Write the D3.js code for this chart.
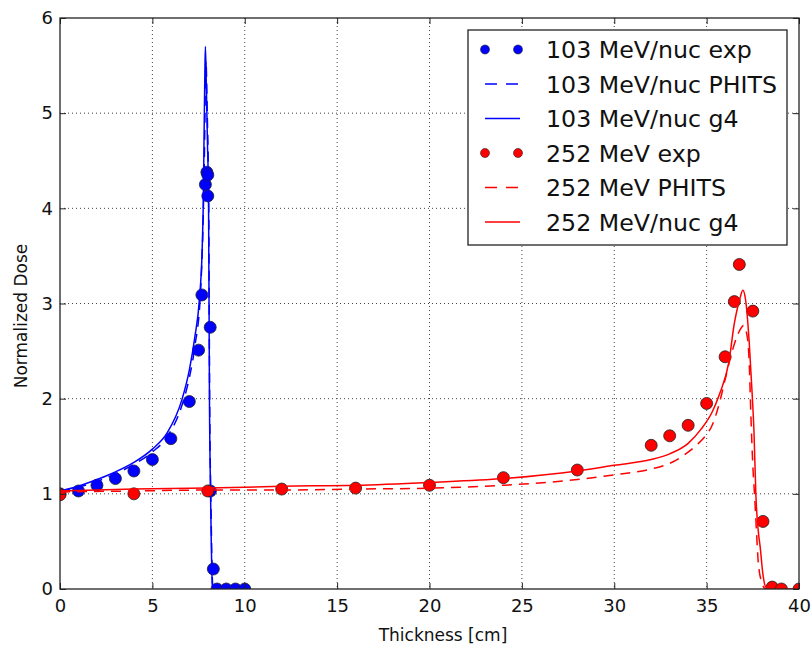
<!DOCTYPE html>
<html>
<head>
<meta charset="utf-8">
<script src="https://cdn.jsdelivr.net/npm/d3@7"></script>
<style>
  body { margin: 0; background: #fff; }
  svg { display: block; font-family: "DejaVu Sans", sans-serif; }
</style>
</head>
<body>
<svg id="chart"></svg>
<script>
const blueExpX = [0, 1, 2, 3, 4, 5, 6, 7, 7.5, 7.68, 7.87, 7.95, 8.0, 8.0, 8.13, 8.14, 8.3, 8.5, 9.0, 9.5, 10.0];
const blueExpY = [1.0, 1.03, 1.09, 1.16, 1.24, 1.36, 1.58, 1.97, 2.51, 3.09, 4.25, 4.38, 4.35, 4.13, 2.75, 1.03, 0.21, 0, 0, 0, 0];

const bluePhitsX = [0, 1, 2, 3, 4, 5, 5.8, 6.6, 7.0, 7.3, 7.6, 7.75, 7.82, 7.9, 7.97, 8.05, 8.1, 8.17, 8.27, 8.4, 10];
const bluePhitsY = [1.02, 1.07, 1.13, 1.21, 1.31, 1.44, 1.6, 1.93, 2.22, 2.55, 3.1, 3.9, 4.6, 5.55, 5.0, 4.0, 2.0, 0.9, 0.03, 0, 0];

const blueG4X = [0, 1, 2, 3, 4, 5, 5.8, 6.6, 7.0, 7.3, 7.54, 7.7, 7.76, 7.8, 7.84, 7.87, 7.92, 7.98, 8.04, 8.09, 8.15, 8.25, 8.4, 10];
const blueG4Y = [1.03, 1.08, 1.15, 1.23, 1.33, 1.47, 1.64, 1.99, 2.3, 2.65, 3.03, 3.6, 4.1, 4.8, 5.4, 5.7, 5.3, 4.7, 4.1, 2.0, 1.0, 0.03, 0, 0];

const redExpX = [0, 4, 8, 12, 16, 20, 24, 28, 32, 33, 34, 35, 36, 36.5, 36.77, 37.5, 38.05, 38.55, 39.05, 40];
const redExpY = [0.99, 1.0, 1.03, 1.05, 1.06, 1.09, 1.17, 1.25, 1.51, 1.61, 1.72, 1.95, 2.44, 3.02, 3.41, 2.92, 0.71, 0.02, 0, 0];

const redPhitsX = [0, 4, 8, 12, 16, 20, 24, 28, 30, 32, 33, 33.8, 34.5, 34.9, 35.3, 35.7, 36.0, 36.4, 36.8, 37.0, 37.2, 37.3, 37.4, 37.5, 37.6, 37.7, 37.8, 38.0, 38.2, 40];
const redPhitsY = [1.02, 1.03, 1.04, 1.04, 1.05, 1.06, 1.09, 1.15, 1.2, 1.26, 1.32, 1.41, 1.52, 1.6, 1.72, 1.96, 2.2, 2.51, 2.72, 2.77, 2.65, 2.4, 1.8, 1.3, 0.97, 0.6, 0.27, 0.06, 0, 0];

const redG4X = [0, 4, 8, 12, 16, 20, 24, 28, 30, 32, 33, 34, 34.7, 35.3, 35.7, 36.2, 36.5, 36.8, 36.96, 37.1, 37.3, 37.45, 37.56, 37.67, 37.8, 37.9, 38.05, 38.2, 38.5, 40];
const redG4Y = [1.03, 1.05, 1.06, 1.08, 1.09, 1.12, 1.16, 1.24, 1.30, 1.36, 1.42, 1.53, 1.68, 1.86, 2.05, 2.38, 2.79, 3.05, 3.14, 3.05, 2.61, 2.1, 1.67, 0.97, 0.6, 0.44, 0.15, 0.02, 0, 0];

const xTicks = [0, 5, 10, 15, 20, 25, 30, 35, 40];
const yTicks = [0, 1, 2, 3, 4, 5, 6];

const legendLabels = ["103 MeV/nuc exp", "103 MeV/nuc PHITS", "103 MeV/nuc g4",
                      "252 MeV exp", "252 MeV PHITS", "252 MeV/nuc g4"];

const width = 811;
const height = 652;
const margin = {left: 60, right: 12, top: 18, bottom: 63};
const iw = width - margin.left - margin.right;
const ih = height - margin.top - margin.bottom;

const svg = d3.select("#chart")
    .attr("width", width)
    .attr("height", height);

const x = d3.scaleLinear().domain([0, 40]).range([0, iw]);
const y = d3.scaleLinear().domain([0, 6]).range([ih, 0]);

const g = svg.append("g").attr("transform", `translate(${margin.left},${margin.top})`);

svg.append("defs").append("clipPath").attr("id", "clip")
    .append("rect").attr("width", iw).attr("height", ih);

// grid
g.append("g")
    .selectAll("line.gx")
    .data(xTicks.slice(1, -1))
    .enter().append("line")
    .attr("x1", d => x(d)).attr("x2", d => x(d))
    .attr("y1", 0).attr("y2", ih)
    .attr("stroke", "#444").attr("stroke-width", 1)
    .attr("stroke-dasharray", "1,3");
g.append("g")
    .selectAll("line.gy")
    .data(yTicks.slice(1, -1))
    .enter().append("line")
    .attr("x1", 0).attr("x2", iw)
    .attr("y1", d => y(d)).attr("y2", d => y(d))
    .attr("stroke", "#444").attr("stroke-width", 1)
    .attr("stroke-dasharray", "1,3");

// series
const plot = g.append("g").attr("clip-path", "url(#clip)");

function zip(xs, ys) { return xs.map((v, i) => [v, ys[i]]); }

const line = d3.line()
    .x(d => x(d[0]))
    .y(d => y(d[1]))
    .curve(d3.curveMonotoneX);

function drawDots(xs, ys, color) {
    plot.append("g").selectAll("circle")
        .data(zip(xs, ys))
        .enter().append("circle")
        .attr("cx", d => x(d[0]))
        .attr("cy", d => y(d[1]))
        .attr("r", 6)
        .attr("fill", color)
        .attr("stroke", "#222")
        .attr("stroke-width", 0.8);
}

function drawLine(xs, ys, color, dashed) {
    plot.append("path")
        .datum(zip(xs, ys))
        .attr("d", line)
        .attr("fill", "none")
        .attr("stroke", color)
        .attr("stroke-width", 1.5)
        .attr("stroke-dasharray", dashed ? "10,7" : null);
}

drawDots(blueExpX, blueExpY, "#0000ff");
drawLine(bluePhitsX, bluePhitsY, "#0000ff", true);
drawLine(blueG4X, blueG4Y, "#0000ff", false);
drawDots(redExpX, redExpY, "#ff0000");
drawLine(redPhitsX, redPhitsY, "#ff0000", true);
drawLine(redG4X, redG4Y, "#ff0000", false);

// axes (ticks inside)
const fmt = d3.format("d");
g.append("g")
    .attr("transform", `translate(0,${ih})`)
    .call(d3.axisBottom(x).tickValues(xTicks).tickFormat(fmt).tickSizeInner(-6).tickSizeOuter(0).tickPadding(10));
g.append("g")
    .call(d3.axisLeft(y).tickValues(yTicks).tickFormat(fmt).tickSizeInner(-6).tickSizeOuter(0).tickPadding(7));
g.append("g")
    .call(d3.axisTop(x).tickValues(xTicks).tickSizeInner(-6).tickSizeOuter(0).tickFormat(""));
g.append("g")
    .attr("transform", `translate(${iw},0)`)
    .call(d3.axisRight(y).tickValues(yTicks).tickSizeInner(-6).tickSizeOuter(0).tickFormat(""));

g.selectAll(".domain").remove();
g.selectAll(".tick line").attr("stroke", "#222");
g.selectAll(".tick text")
    .attr("font-size", 18)
    .attr("font-family", "DejaVu Sans")
    .attr("fill", "#111");

// frame
g.append("rect")
    .attr("width", iw).attr("height", ih)
    .attr("fill", "none")
    .attr("stroke", "#222")
    .attr("stroke-width", 1.3);

// labels
svg.append("text")
    .attr("x", 443).attr("y", 641)
    .attr("text-anchor", "middle")
    .attr("font-size", 17)
    .attr("fill", "#111")
    .text("Thickness [cm]");
svg.append("text")
    .attr("transform", "translate(27,316) rotate(-90)")
    .attr("text-anchor", "middle")
    .attr("font-size", 17)
    .attr("fill", "#111")
    .text("Normalized Dose");

// legend
const legend = svg.append("g");
legend.append("rect")
    .attr("x", 468).attr("y", 30)
    .attr("width", 319).attr("height", 215)
    .attr("fill", "#fff")
    .attr("stroke", "#222")
    .attr("stroke-width", 1.3);

const legendKinds = ["dot", "dash", "solid", "dot", "dash", "solid"];
const legendColors = ["#0000ff", "#0000ff", "#0000ff", "#ff0000", "#ff0000", "#ff0000"];

legendLabels.forEach((label, i) => {
    const cy = 49.5 + i * 34.5;
    const col = legendColors[i];
    if (legendKinds[i] === "dot") {
        [485, 518].forEach(cx => {
            legend.append("circle")
                .attr("cx", cx).attr("cy", cy).attr("r", 4.5)
                .attr("fill", col).attr("stroke", "#222").attr("stroke-width", 0.6);
        });
    } else {
        legend.append("line")
            .attr("x1", 485).attr("x2", 520)
            .attr("y1", cy).attr("y2", cy)
            .attr("stroke", col).attr("stroke-width", 1.5)
            .attr("stroke-dasharray", legendKinds[i] === "dash" ? "12,9" : null);
    }
    legend.append("text")
        .attr("x", 546).attr("y", cy)
        .attr("dy", "0.36em")
        .attr("font-size", 23.7)
        .attr("fill", "#111")
        .text(label);
});
</script>
</body>
</html>
